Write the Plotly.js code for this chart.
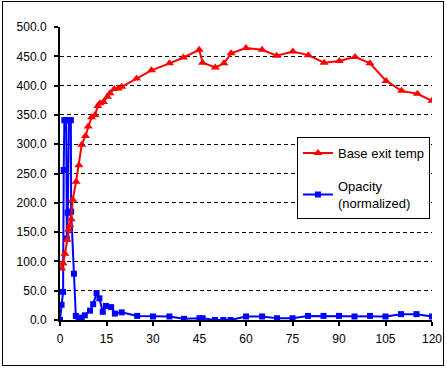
<!DOCTYPE html>
<html>
<head>
<meta charset="utf-8">
<script src="https://cdn.plot.ly/plotly-3.0.1.min.js"></script>
<style>
html,body{margin:0;padding:0;background:#fff;}
#wrap{position:relative;width:447px;height:368px;}
#chart{width:447px;height:368px;}
#frame{position:absolute;left:2px;top:1px;width:440px;height:363px;border:1px solid #000;pointer-events:none;}
</style>
</head>
<body>
<div id="wrap"><div id="chart"></div><div id="frame"></div></div>
<script>
// Base exit temp
const tempX = [0.5, 1.0, 1.6, 2.3, 2.8, 3.2, 3.6, 4.1, 5.2, 6.1, 7.0, 8.2, 9.1, 10.2, 11.3, 12.2, 12.9, 14.0, 15.3, 16.1, 17.5, 18.8, 19.9, 24.7, 29.5, 35.3, 39.8, 44.9, 46.0, 50.1, 52.9, 55.2, 60.0, 65.2, 69.9, 75.1, 80.1, 85.2, 90.1, 95.2, 100.0, 105.2, 110.2, 115.3, 120.0];
const tempY = [88, 97, 113, 137, 154, 162, 172, 205, 236, 264, 299, 314, 330, 346, 350, 365, 370, 372, 381, 387, 394, 395, 398, 412, 426, 438, 448, 461, 439, 431, 438, 455, 464, 461, 451, 458, 452, 439, 442, 449, 438, 408, 391, 386, 374];

// Opacity (normalized)
const opX = [0.0, 0.5, 1.0, 1.2, 1.4, 2.0, 2.2, 2.5, 2.9, 3.5, 3.6, 4.5, 5.1, 6.0, 7.0, 8.0, 9.7, 10.7, 11.8, 12.7, 13.8, 14.8, 16.5, 17.7, 19.9, 24.9, 30.0, 35.3, 40.0, 45.0, 46.0, 50.0, 52.7, 55.0, 60.0, 65.2, 70.0, 75.0, 80.0, 85.0, 90.0, 95.0, 100.0, 105.0, 110.0, 115.0, 120.0];
const opY = [0, 26, 48, 256, 341, 341, 139, 183, 341, 341, 185, 79, 7, 2, 4, 8, 16, 27, 46, 37, 14, 24, 22, 11, 13, 7, 6, 6, 2, 3, 3, 0, 0, 0, 6, 6, 3, 3, 7, 7, 7, 6, 7, 6, 10, 10, 6];

const xTicks = [0, 15, 30, 45, 60, 75, 90, 105, 120];
const yTicks = [0, 50, 100, 150, 200, 250, 300, 350, 400, 450, 500];

const traces = [
  {
    x: opX, y: opY, name: 'Opacity<br>(normalized)', type: 'scatter', mode: 'lines+markers',
    line: {color: '#0000FF', width: 2},
    marker: {symbol: 'square', size: 6, color: '#0000FF'},
    legendrank: 2, legendgroup: 'b'
  },
  {
    x: tempX, y: tempY, name: 'Base exit temp', type: 'scatter', mode: 'lines+markers',
    line: {color: '#FF0000', width: 2},
    marker: {symbol: 'triangle-up', size: 8, color: '#FF0000'},
    legendrank: 1, legendgroup: 'a'
  }
];

const layout = {
  width: 447, height: 368,
  margin: {l: 60, r: 15, t: 27, b: 48},
  paper_bgcolor: '#fff', plot_bgcolor: '#fff',
  font: {family: '"Liberation Sans", Arial, sans-serif', size: 12, color: '#000'},
  showlegend: true,
  hovermode: false,
  xaxis: {
    range: [0, 120], tickvals: xTicks, ticktext: xTicks.map(String),
    showgrid: false, zeroline: false,
    showline: true, linecolor: '#000', linewidth: 2,
    ticks: 'outside', ticklen: 4, tickwidth: 2, tickcolor: '#000',
    tickfont: {size: 12}, ticklabelstandoff: 3
  },
  yaxis: {
    range: [0, 500], tickvals: yTicks, ticktext: yTicks.map(v => v.toFixed(1)),
    showgrid: true, gridcolor: '#000', gridwidth: 1, griddash: '4px,3px',
    zeroline: false,
    showline: true, linecolor: '#000', linewidth: 2,
    ticks: 'outside', ticklen: 4, tickwidth: 2, tickcolor: '#000',
    tickfont: {size: 12}, ticklabelstandoff: 5
  },
  legend: {
    x: 0.637, y: 0.624, xanchor: 'left', yanchor: 'top',
    bgcolor: '#fff', bordercolor: '#000', borderwidth: 1,
    font: {size: 13},
    traceorder: 'grouped', tracegroupgap: 13
  }
};

Plotly.newPlot('chart', traces, layout, {staticPlot: true, displayModeBar: false});
</script>
</body>
</html>
